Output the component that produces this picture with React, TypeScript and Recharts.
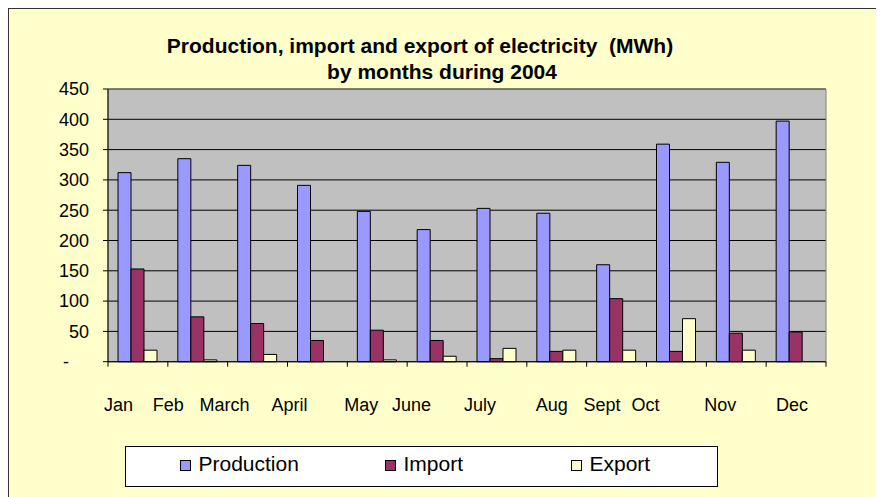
import React from "react";
import { BarChart, Bar, XAxis, YAxis, CartesianGrid, ReferenceArea } from "recharts";

// ---- data (MWh) ----
const months = ["Jan", "Feb", "March", "April", "May", "June", "July", "Aug", "Sept", "Oct", "Nov", "Dec"];
const production = [312, 335, 324, 291, 248, 218, 253, 245, 160, 359, 329, 397];
const imports = [153, 74, 63, 35, 52, 35, 5, 17, 104, 17, 47, 49];
const exports = [19, 3, 12, 0, 3, 9, 22, 19, 19, 71, 19, 0];
const yTicks = [0, 50, 100, 150, 200, 250, 300, 350, 400, 450];
const titleLines = ["Production, import and export of electricity  (MWh)", "by months during 2004"];

const series = [
  { key: "production", name: "Production", color: "#9999FF" },
  { key: "import", name: "Import", color: "#993366" },
  { key: "export", name: "Export", color: "#FFFFCC" },
];

const data = months.map((m, i) => ({
  month: m,
  production: production[i],
  import: imports[i],
  export: exports[i],
}));

// ---- layout ----
const W = 875;
const H = 488;
const margin = { top: 80, right: 58, bottom: 105.3, left: 0 };
const Y_W = 99;
const X_H = 30;
const BAND = (W - margin.left - margin.right - Y_W) / months.length;
const FONT = "'Liberation Sans', Arial, Helvetica, sans-serif";

// the month labels in the original sit unevenly under their bands
const labelShift = [-34, -45, -58, -46, -33, -45, -33, -21, -33, -45, -32, -20];
const legendItemX = [55, 260, 446];
const legendBox = { x: 116, y: 437, w: 592, h: 40 };

function MonthTick(props: any) {
  const { x, y, index, payload } = props;
  const left = x - BAND / 2;
  return (
    <g>
      <line x1={left} x2={left} y1={y} y2={y + 5} stroke="#000" />
      {index === months.length - 1 && (
        <line x1={x + BAND / 2} x2={x + BAND / 2} y1={y} y2={y + 5} stroke="#000" />
      )}
      <text x={x + labelShift[index]} y={y + 49} textAnchor="start" fontSize={18} fill="#000" fontFamily={FONT}>
        {payload.value}
      </text>
    </g>
  );
}

function ValueTick(props: any) {
  const { x, y, payload } = props;
  const zero = payload.value === 0;
  return (
    <text x={zero ? x - 20 : x} y={y} dy="0.35em" textAnchor="end" fontSize={18} fill="#000" fontFamily={FONT}>
      {zero ? "-" : payload.value}
    </text>
  );
}

export default function App() {
  return (
    <div
      style={{
        width: 876,
        height: 489,
        boxSizing: "border-box",
        borderTop: "1px solid #333",
        borderLeft: "1px solid #333",
        background: "#FFFFCC",
        position: "relative",
        overflow: "hidden",
        fontFamily: FONT,
      }}
    >
      <BarChart width={W} height={H} data={data} margin={margin} barCategoryGap={10} barGap={0}>
        <CartesianGrid vertical={false} stroke="#000" fill="#C0C0C0" fillOpacity={1} />
        <ReferenceArea y1={0} y2={450} fill="none" stroke="#808080" ifOverflow="visible" />
        {series.map((s) => (
          <Bar
            key={s.key}
            dataKey={s.key}
            name={s.name}
            fill={s.color}
            stroke="#000"
            strokeWidth={1}
            isAnimationActive={false}
          />
        ))}
        <XAxis
          dataKey="month"
          height={X_H}
          interval={0}
          tickLine={false}
          tickSize={0}
          tickMargin={0}
          axisLine={{ stroke: "#000" }}
          tick={<MonthTick />}
        />
        <YAxis
          width={Y_W}
          domain={[0, 450]}
          ticks={yTicks}
          interval={0}
          tickSize={5}
          tickMargin={14}
          tickLine={{ stroke: "#000" }}
          axisLine={{ stroke: "#000" }}
          tick={<ValueTick />}
        />
      </BarChart>

      <svg width={W} height={H} style={{ position: "absolute", left: 0, top: 0, pointerEvents: "none" }}>
        <text
          x={411}
          y={44}
          textAnchor="middle"
          fontSize={21}
          fontWeight="bold"
          fontFamily={FONT}
          fill="#000"
          style={{ whiteSpace: "pre" }}
        >
          {titleLines[0]}
        </text>
        <text x={433} y={70} textAnchor="middle" fontSize={21} fontWeight="bold" fontFamily={FONT} fill="#000">
          {titleLines[1]}
        </text>

        <rect
          x={legendBox.x + 0.5}
          y={legendBox.y + 0.5}
          width={legendBox.w}
          height={legendBox.h}
          fill="#fff"
          stroke="#000"
        />
        {series.map((s, i) => {
          const sx = legendBox.x + legendItemX[i];
          return (
            <g key={s.key}>
              <rect x={sx + 0.5} y={legendBox.y + 14.5} width={10} height={10} fill={s.color} stroke="#000" />
              <text x={sx + 18.5} y={legendBox.y + 24.5} fontSize={21} fontFamily={FONT} fill="#000">
                {s.name}
              </text>
            </g>
          );
        })}
      </svg>
    </div>
  );
}
